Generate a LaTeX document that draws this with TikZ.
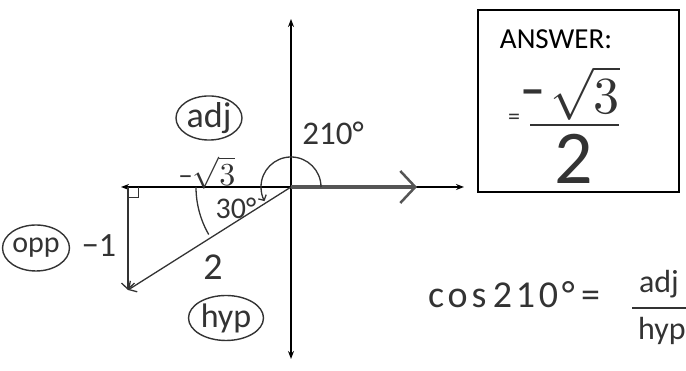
\documentclass[tikz,border=0pt]{standalone}
\usepackage{fontspec}
\setmainfont{Carlito}
\usetikzlibrary{arrows.meta,shapes.geometric}
\definecolor{ink}{HTML}{333333}
\definecolor{pencil}{HTML}{555555}
\newcommand{\fsz}[1]{\fontsize{#1}{#1}\selectfont}
\begin{document}
\begin{tikzpicture}[x=1pt,y=1pt,
  axisline/.style={black, line width=1.5pt, {Stealth[length=8pt,width=6pt]}-{Stealth[length=8pt,width=6pt]}},
  hand/.style={ink, line width=1.3pt},
  barb/.style={-{Straight Barb[length=6pt,width=13pt]}},
  lbl/.style={text=ink, inner sep=0pt},
  circled/.style={draw=ink, line width=1.4pt, ellipse, inner sep=0pt, text=ink}
]
\useasboundingbox (0,0) rectangle (686,371);
% axes
\coordinate (O) at (291,184);
\coordinate (T) at (291,352);
\coordinate (B) at (291,12);
\coordinate (L) at (121,184);
\coordinate (R) at (464,184);
\draw[axisline] (B) -- (T);
\draw[axisline] (L) -- (R);
% terminal side of 0 (thick grey arrow)
\coordinate (E) at (417,184);
\draw[pencil, line width=3.5pt, -{Straight Barb[length=15pt,width=32pt,line width=2.5pt]}] (O) -- (E);
% reference triangle
\coordinate (C) at (128,184);
\coordinate (P) at (128,81);
\draw[hand, barb] (C) -- (P);
\draw[hand, barb] (O) -- (P);
\draw[hand, line width=0.8pt] (128,174) -| (138,184);
% angle arcs
\draw[hand, -{Straight Barb[length=4pt,width=9pt]}] ([shift={(0:30)}]O) arc[start angle=0,end angle=208,radius=30];
\draw[hand] ([shift={(180:95)}]O) arc[start angle=180,end angle=210,radius=95];
% labels
\node[circled, font=\fsz{36}, minimum width=66pt, minimum height=44pt] (adj) at (209,253) {adj};
\node[lbl] (sq) at (207,198) {{\fsz{28}−}\scalebox{3.2}{$\sqrt{3}$}};
\node[lbl, font=\fsz{30}] (thirty) at (236,163) {30°};
\node[lbl, font=\fsz{33}] (deg) at (333,238) {210°};
\node[circled, font=\fsz{30}, minimum width=63pt, minimum height=46pt] (opp) at (36,123) {opp};
\node[lbl, font=\fsz{34}] (m1) at (99,125) {−1};
\node[lbl, font=\fsz{38}] (two) at (213,104) {2};
\node[circled, font=\fsz{34}, minimum width=75pt, minimum height=45pt] (hyp) at (226,53) {hyp};
% answer box
\node[draw=black, line width=1.3pt, minimum width=201pt, minimum height=182pt, inner sep=0pt] (box) at (578.5,270) {};
\node[inner sep=0pt, font=\fsz{29}] (ans) at (556,332) {ANSWER:};
\node[lbl, font=\fsz{24}] (eq) at (514,252) {=};
\node[lbl, font=\fsz{46}\bfseries] (neg) at (533,273) {−};
\node[lbl] (num) at (585,278) {\scalebox{5.2}{$\sqrt{3}$}};
\coordinate (f1) at (530,246);
\coordinate (f2) at (619,246);
\draw[hand, line width=1.6pt] (f1) -- (f2);
\node[lbl, font=\fsz{76}] (den) at (574,212) {2};
% cos formula
\node[lbl, font=\fsz{38}\addfontfeature{LetterSpace=10}, anchor=west] (cosf) at (428,76) {cos\,210°\,=};
\node[lbl, font=\fsz{32}] (fa) at (659,87) {adj};
\coordinate (g1) at (632,63);
\coordinate (g2) at (686,63);
\draw[hand] (g1) -- (g2);
\node[lbl, font=\fsz{32}] (fh) at (662,40) {hyp};
\end{tikzpicture}
\end{document}
